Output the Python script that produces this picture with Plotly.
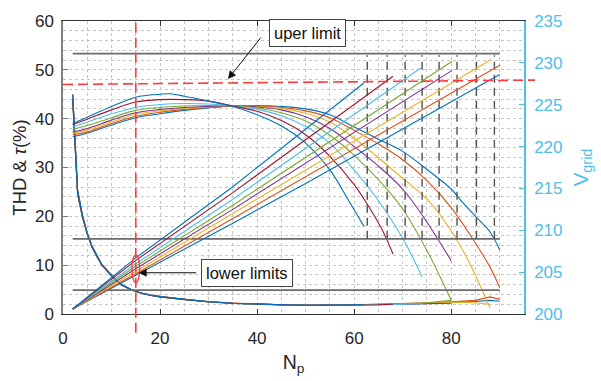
import plotly.graph_objects as go

FONT = "Liberation Sans, Arial, sans-serif"
COLORS = ['#0072BD', '#D95319', '#EDB120', '#7E2F8E', '#77AC30', '#4DBEEE', '#A2142F', '#0072BD']
VCOLOR = '#4DBEEE'

# ---------------- data ----------------
# THD (%) curves, left axis
THD_X = [2, 3, 4, 5, 6, 7, 8, 10, 12, 14, 16, 18, 20, 25, 30, 35, 40, 45, 50, 55, 60, 65, 70, 75, 80, 85, 88]
NP_END = [90, 90, 88, 80, 80, 74, 68, 62]
THD_1 = [44.0, 24.5, 19.8, 16.3, 13.6, 11.6, 10.0, 7.8, 6.0, 4.9, 4.3, 3.8, 3.5, 2.95, 2.45, 2.15, 1.95, 1.85, 1.75, 1.75, 1.8, 1.9, 2.0, 2.15, 2.35, 2.55, 2.8, 2.6]
THD_2 = [45.0, 25.5, 20.3, 16.6, 13.8, 11.9, 10.2, 8.0, 6.1, 5.0, 4.35, 3.9, 3.6, 3.0, 2.5, 2.2, 2.0, 1.9, 1.85, 1.8, 1.9, 2.0, 2.1, 2.3, 2.5, 2.8, 3.5, 3.0]
THD_3 = [44.5, 25.0, 20.0, 16.4, 13.7, 11.7, 10.1, 7.9, 6.1, 5.0, 4.3, 3.85, 3.55, 3.0, 2.5, 2.2, 2.0, 1.9, 1.8, 1.8, 1.85, 1.95, 2.05, 2.2, 2.4, 2.3, 2.0]
THD_4 = [45.0, 25.2, 20.1, 16.5, 13.8, 11.8, 10.1, 7.9, 6.0, 5.0, 4.3, 3.9, 3.55, 3.0, 2.5, 2.2, 2.0, 1.9, 1.8, 1.8, 1.85, 1.95, 2.0, 2.1, 2.2]
THD_5 = [43.5, 24.8, 19.9, 16.3, 13.6, 11.7, 10.0, 7.8, 6.0, 4.95, 4.3, 3.85, 3.5, 2.95, 2.5, 2.2, 2.0, 1.85, 1.8, 1.8, 1.85, 1.95, 2.1, 2.3, 2.8]
THD_6 = [44.5, 25.3, 20.2, 16.5, 13.7, 11.8, 10.1, 7.9, 6.1, 5.0, 4.3, 3.9, 3.55, 3.0, 2.5, 2.2, 2.0, 1.9, 1.8, 1.8, 1.85, 1.9, 2.0, 2.1]
THD_7 = [44.0, 25.0, 20.0, 16.4, 13.7, 11.7, 10.0, 7.8, 6.0, 5.0, 4.3, 3.85, 3.5, 3.0, 2.5, 2.2, 2.0, 1.9, 1.8, 1.8, 1.85, 1.9, 2.0]
THD_8 = [44.8, 25.4, 20.2, 16.5, 13.8, 11.8, 10.1, 7.9, 6.0, 5.0, 4.3, 3.9, 3.55, 3.0, 2.5, 2.2, 2.0, 1.9, 1.8, 1.8, 1.85, 1.9]
THD_Y = [THD_1, THD_2, THD_3, THD_4, THD_5, THD_6, THD_7, THD_8]

# tau (%) curves, left axis
TAU_X1 = [2, 5, 10, 15, 20, 25, 30, 35, 40, 45, 50, 55, 60, 65, 70, 75, 80, 82.2, 85, 88, 90]
TAU_Y1 = [36.3, 37.0, 38.7, 40.2, 41.0, 41.7, 42.2, 42.6, 42.7, 42.5, 42.0, 40.8, 38.3, 35.8, 33.3, 29.6, 25.6, 23.0, 20.0, 16.8, 13.1]
TAU_X2 = [2, 5, 10, 15, 20, 25, 30, 35, 40, 45, 50, 55, 60, 65, 70, 75, 80, 85, 88, 90]
TAU_Y2 = [36.7, 37.3, 39.0, 40.5, 41.3, 41.9, 42.3, 42.6, 42.6, 42.3, 41.6, 40.2, 37.6, 34.8, 31.6, 27.3, 21.8, 14.5, 9.6, 5.4]
TAU_X3 = [2, 5, 10, 15, 20, 25, 30, 35, 40, 45, 50, 55, 60, 65, 70, 75, 80, 84, 88]
TAU_Y3 = [37.0, 37.7, 39.3, 40.9, 41.6, 42.1, 42.4, 42.6, 42.5, 42.1, 41.1, 39.3, 36.0, 32.0, 27.8, 23.5, 17.0, 10.0, 1.2]
TAU_X4 = [2, 5, 10, 15, 20, 25, 30, 35, 40, 45, 50, 55, 60, 65, 70, 75, 80]
TAU_Y4 = [37.3, 38.0, 39.7, 41.2, 41.9, 42.3, 42.5, 42.6, 42.4, 41.8, 40.4, 38.0, 34.3, 30.3, 25.6, 18.8, 10.9]
TAU_X5 = [2, 5, 10, 15, 20, 25, 30, 35, 40, 45, 50, 55, 60, 65, 70, 75, 80]
TAU_Y5 = [37.8, 38.6, 40.2, 41.7, 42.3, 42.6, 42.7, 42.6, 42.2, 41.2, 39.5, 36.6, 32.5, 27.5, 21.5, 13.0, 2.8]
TAU_X6 = [2, 5, 10, 15, 20, 25, 30, 35, 40, 45, 50, 55, 60, 65, 70, 74]
TAU_Y6 = [38.3, 39.3, 41.0, 42.3, 42.9, 43.1, 43.0, 42.6, 41.9, 40.6, 38.4, 35.0, 29.5, 23.2, 15.5, 7.6]
TAU_X7 = [2, 5, 10, 15, 20, 25, 30, 35, 40, 45, 50, 55, 60, 63, 66, 68]
TAU_Y7 = [38.8, 39.9, 41.8, 43.4, 43.9, 43.9, 43.6, 42.6, 41.5, 39.6, 36.7, 32.3, 26.5, 22.0, 16.8, 12.3]
TAU_X8 = [2, 5, 10, 15, 20, 22, 25, 30, 35, 40, 45, 50, 55, 59, 62]
TAU_Y8 = [39.0, 40.3, 42.5, 44.4, 45.0, 45.1, 44.6, 43.6, 42.5, 40.8, 38.5, 35.0, 29.5, 23.0, 18.0]
TAU_X = [TAU_X1, TAU_X2, TAU_X3, TAU_X4, TAU_X5, TAU_X6, TAU_X7, TAU_X8]
TAU_Y = [TAU_Y1, TAU_Y2, TAU_Y3, TAU_Y4, TAU_Y5, TAU_Y6, TAU_Y7, TAU_Y8]

# V_grid curves, right axis
VG_X1 = [2, 15, 35, 50, 90]
VG_Y1 = [200.6, 204.6, 210.85, 215.6, 228.6]
VG_X2 = [2, 15, 35, 50, 90.1]
VG_Y2 = [200.6, 204.8, 211.4, 216.4, 229.75]
VG_X3 = [2, 15, 35, 50, 88.2]
VG_Y3 = [200.6, 205.1, 212.0, 217.2, 230.4]
VG_X4 = [2, 15, 35, 50, 80.2]
VG_Y4 = [200.6, 205.4, 212.5, 218.0, 229.1]
VG_X5 = [2, 15, 35, 50, 80.2]
VG_Y5 = [200.6, 205.7, 213.0, 218.7, 230.2]
VG_X6 = [2, 15, 35, 50, 74]
VG_Y6 = [200.6, 206.0, 213.7, 219.8, 229.5]
VG_X7 = [2, 15, 35, 50, 68]
VG_Y7 = [200.6, 206.4, 214.5, 220.8, 228.4]
VG_X8 = [2, 15, 35, 50, 62]
VG_Y8 = [200.6, 206.7, 215.2, 222.1, 227.6]
VG_X = [VG_X1, VG_X2, VG_X3, VG_X4, VG_X5, VG_X6, VG_X7, VG_X8]
VG_Y = [VG_Y1, VG_Y2, VG_Y3, VG_Y4, VG_Y5, VG_Y6, VG_Y7, VG_Y8]

# limits / markers
LIMIT_LEVELS = [53.3, 15.4, 4.9]
LIMIT_SPAN = [2, 90]
CROSS_NP = [62.7, 66.8, 70.5, 74.0, 77.5, 81.2, 85.2, 88.9]
CROSS_SPAN = [15.4, 53.0]
UPPER_RED = [47.0, 47.9]
NP_SELECT = 15
ELLIPSE_Y = [6.4, 12.1]

# ---------------- figure ----------------
fig = go.Figure()

for i in range(8):
    xs = [x for x in THD_X if x < NP_END[i]] + [NP_END[i]]
    assert len(xs) == len(THD_Y[i]), (i, len(xs), len(THD_Y[i]))
    fig.add_trace(go.Scatter(x=xs, y=THD_Y[i], mode='lines',
                             line=dict(color=COLORS[i], width=1.1), yaxis='y'))
for i in range(8):
    fig.add_trace(go.Scatter(x=TAU_X[i], y=TAU_Y[i], mode='lines', line_shape='spline',
                             line=dict(color=COLORS[i], width=1.1), yaxis='y'))
for i in range(8):
    fig.add_trace(go.Scatter(x=VG_X[i], y=VG_Y[i], mode='lines',
                             line=dict(color=COLORS[i], width=1.1), yaxis='y2'))

for lv in LIMIT_LEVELS:
    fig.add_trace(go.Scatter(x=LIMIT_SPAN, y=[lv, lv], mode='lines',
                             line=dict(color='#6b6b6b', width=1.8), yaxis='y'))
for xc in CROSS_NP:
    fig.add_trace(go.Scatter(x=[xc, xc], y=CROSS_SPAN, mode='lines',
                             line=dict(color='#505050', width=1.4, dash='8px,5px'), yaxis='y'))

RED = '#FF3A3A'
shapes = [
    dict(type='line', xref='paper', yref='y', x0=0, x1=1.024, y0=UPPER_RED[0], y1=UPPER_RED[1],
         line=dict(color=RED, width=1.6, dash='10px,5px')),
    dict(type='line', xref='x', yref='paper', x0=NP_SELECT, x1=NP_SELECT, y0=-0.064, y1=1,
         line=dict(color=RED, width=1.6, dash='10px,5px')),
    dict(type='circle', xref='x', yref='y', x0=NP_SELECT - 0.8, x1=NP_SELECT + 0.8,
         y0=ELLIPSE_Y[0], y1=ELLIPSE_Y[1], line=dict(color=RED, width=1.3)),
]

annotations = [
    dict(x=34, y=48.1, xref='x', yref='y', ax=34, ay=-43, text='', showarrow=True,
         arrowhead=2, arrowsize=1.6, arrowwidth=1, arrowcolor='#111'),
    dict(x=50.4, y=57.6, xref='x', yref='y', text='uper limit', showarrow=False,
         font=dict(family=FONT, size=16.5, color='#111'), bgcolor='white',
         bordercolor='#444', borderwidth=1, borderpad=4),
    dict(x=15.6, y=8.45, xref='x', yref='y', ax=59, ay=0, text='', showarrow=True,
         arrowhead=2, arrowsize=1.6, arrowwidth=1, arrowcolor='#111'),
    dict(x=37.9, y=8.45, xref='x', yref='y', text='lower limits', showarrow=False,
         font=dict(family=FONT, size=16.5, color='#111'), bgcolor='white',
         bordercolor='#444', borderwidth=1, borderpad=4),
]

GRID = '#c6c6c6'
fig.update_layout(
    width=601, height=381,
    margin=dict(l=63, r=77, t=16, b=67),
    paper_bgcolor='white', plot_bgcolor='white',
    showlegend=False,
    font=dict(family=FONT, size=17, color='#262626'),
    shapes=shapes, annotations=annotations,
    xaxis=dict(range=[0, 95], dtick=20, tick0=0, ticks='inside', ticklen=5, tickcolor='#333',
               showline=True, linecolor='#333', linewidth=1.2, mirror='ticks',
               showgrid=True, gridcolor=GRID, griddash='dot', gridwidth=1,
               minor=dict(dtick=5, showgrid=True, gridcolor=GRID, griddash='dot', gridwidth=1),
               zeroline=False, ticklabelstandoff=8,
               title=dict(text='N<sub>p</sub>', font=dict(size=19.5), standoff=8)),
    yaxis=dict(range=[0, 60], dtick=10, tick0=0, ticks='inside', ticklen=5, tickcolor='#777',
               showline=True, linecolor='#808080', linewidth=1.5,
               showgrid=True, gridcolor=GRID, griddash='dot', gridwidth=1,
               minor=dict(dtick=2, showgrid=True, gridcolor=GRID, griddash='dot', gridwidth=1),
               zeroline=False, ticklabelstandoff=4,
               title=dict(text='THD & <i>τ</i>(%)', font=dict(size=18.5), standoff=3)),
    yaxis2=dict(range=[200, 235], dtick=5, tick0=200, overlaying='y', side='right',
                ticks='inside', ticklen=5, tickcolor=VCOLOR,
                showline=True, linecolor=VCOLOR, linewidth=1.5, showgrid=False, zeroline=False,
                tickfont=dict(color=VCOLOR, size=17), ticklabelstandoff=5,
                title=dict(text='V<sub>grid</sub>', font=dict(color=VCOLOR, size=20.5), standoff=12)),
)

fig.write_html("out.html")
